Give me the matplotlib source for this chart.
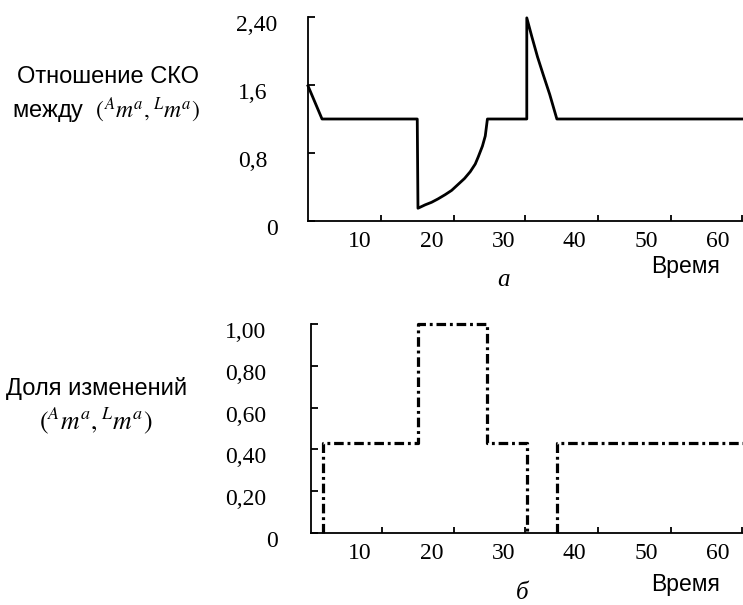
import numpy as np
import matplotlib
matplotlib.use("Agg")
import matplotlib.pyplot as plt
from matplotlib.transforms import ScaledTranslation

# ---- data ----
# panel a: ratio of RMS errors between (A m^a, L m^a)
time_a = [2.74, 4.7, 18.0, 18.1, 19.1, 20.0, 20.9, 21.9, 22.8, 23.7, 24.6, 25.4, 26.1,
          26.5, 27.1, 27.5, 27.8, 33.3, 33.3, 34.0, 34.8, 35.6, 36.5, 37.5, 63.5]
ratio_a = [1.59, 1.2, 1.2, 0.15, 0.19, 0.22, 0.26, 0.31, 0.36, 0.43, 0.50, 0.58, 0.67,
           0.75, 0.88, 1.0, 1.2, 1.2, 2.39, 2.17, 1.93, 1.72, 1.49, 1.2, 1.2]

# panel b: share of changes (A m^a, L m^a), step line (nan = hidden on axis)
time_b = [4.8, 4.8, 18.1, 18.1, 27.7, 27.7, 33.3, 33.3, np.nan, 37.5, 37.5, 63.5]
share_b = [0, 0.43, 0.43, 1.0, 1.0, 0.43, 0.43, 0, np.nan, 0, 0.43, 0.43]

x_labels = [10, 20, 30, 40, 50, 60]
x_marks = [13.0, 23.1, 33.1, 43.2, 53.5, 63.4]   # tick marks (offset from labels in the scan)
yticks_a = [0, 0.8, 1.6, 2.4]
ylabels_a = ["0", "0,8", "1,6", "2,40"]
yticks_b = [0, 0.2, 0.4, 0.6, 0.8, 1.0]
ylabels_b = ["0", "0,20", "0,40", "0,60", "0,80", "1,00"]

plt.rcParams["mathtext.fontset"] = "stix"
sans = "Liberation Sans"
serif = "Liberation Serif"

W, H = 743, 605
fig = plt.figure(figsize=(W / 100, H / 100), dpi=100)


def px_box(left, bottom, right, top):
    return [left / W, 1 - bottom / H, (right - left) / W, (bottom - top) / H]


def style_axes(ax, xlim, ylim, yticks, ylabels, ypad, shifts):
    ax.set_xlim(*xlim)
    ax.set_ylim(*ylim)
    for s in ["top", "right"]:
        ax.spines[s].set_visible(False)
    for s in ["left", "bottom"]:
        ax.spines[s].set_linewidth(1.3)
    ax.set_xticks(x_labels)
    ax.set_xticklabels([str(v) for v in x_labels], fontfamily=serif, fontsize=17)
    ax.set_xticks(x_marks, minor=True)
    ax.tick_params(axis="x", which="major", length=0, pad=7)
    ax.tick_params(axis="x", which="minor", direction="in", length=4, width=1.3)
    ax.set_yticks(yticks)
    ax.set_yticklabels(ylabels, fontfamily=serif, fontsize=17)
    ax.tick_params(axis="y", direction="in", length=5, width=1.3, pad=ypad)
    for lab, dx in zip(ax.get_yticklabels(), shifts):
        lab.set_transform(lab.get_transform() + ScaledTranslation(dx / 100, -6 / 100, fig.dpi_scale_trans))


# ---- panel a ----
ax1 = fig.add_axes(px_box(308, 221, 743, 17))
ax1.plot(time_a, ratio_a, color="black", lw=2, solid_joinstyle="round", clip_on=False)
style_axes(ax1, (2.74, 63.5), (0, 2.4), yticks_a, ylabels_a, 29, [10, 0, 0, 10])

# ---- panel b ----
ax2 = fig.add_axes(px_box(311, 533, 743, 324))
ax2.plot(time_b, share_b, color="black", lw=2.3, dashes=(3.0, 1.2, 0.9, 1.2), clip_on=False)
style_axes(ax2, (3.15, 63.5), (0, 1.0), yticks_b, ylabels_b, 32, [11, 0, 0, 0, 0, 0])

# ---- labels ----
fig.text(108 / W, 1 - 77 / H, "Отношение СКО", fontfamily=sans, fontsize=17, ha="center", va="center")
fig.text(106 / W, 1 - 110 / H, r"между  $({}^{A}m^{a},{}^{L}m^{a})$", fontfamily=sans, fontsize=17,
         ha="center", va="center")
fig.text(97 / W, 1 - 388 / H, "Доля изменений", fontfamily=sans, fontsize=17, ha="center", va="center")
fig.text(96 / W, 1 - 421 / H, r"$({}^{A}m^{a},{}^{L}m^{a})$", fontsize=18.5, ha="center", va="center")

fig.text(686 / W, 1 - 266 / H, "Время", fontfamily=sans, fontsize=16.5, ha="center", va="center")
fig.text(686 / W, 1 - 585 / H, "Время", fontfamily=sans, fontsize=16.5, ha="center", va="center")
fig.text(503 / W, 1 - 280 / H, "а", fontfamily=serif, style="italic", fontsize=18, ha="center", va="center")
fig.text(522 / W, 1 - 593 / H, "б", fontfamily=serif, style="italic", fontsize=18, ha="center", va="center")

fig.savefig("out.png", dpi=100)
